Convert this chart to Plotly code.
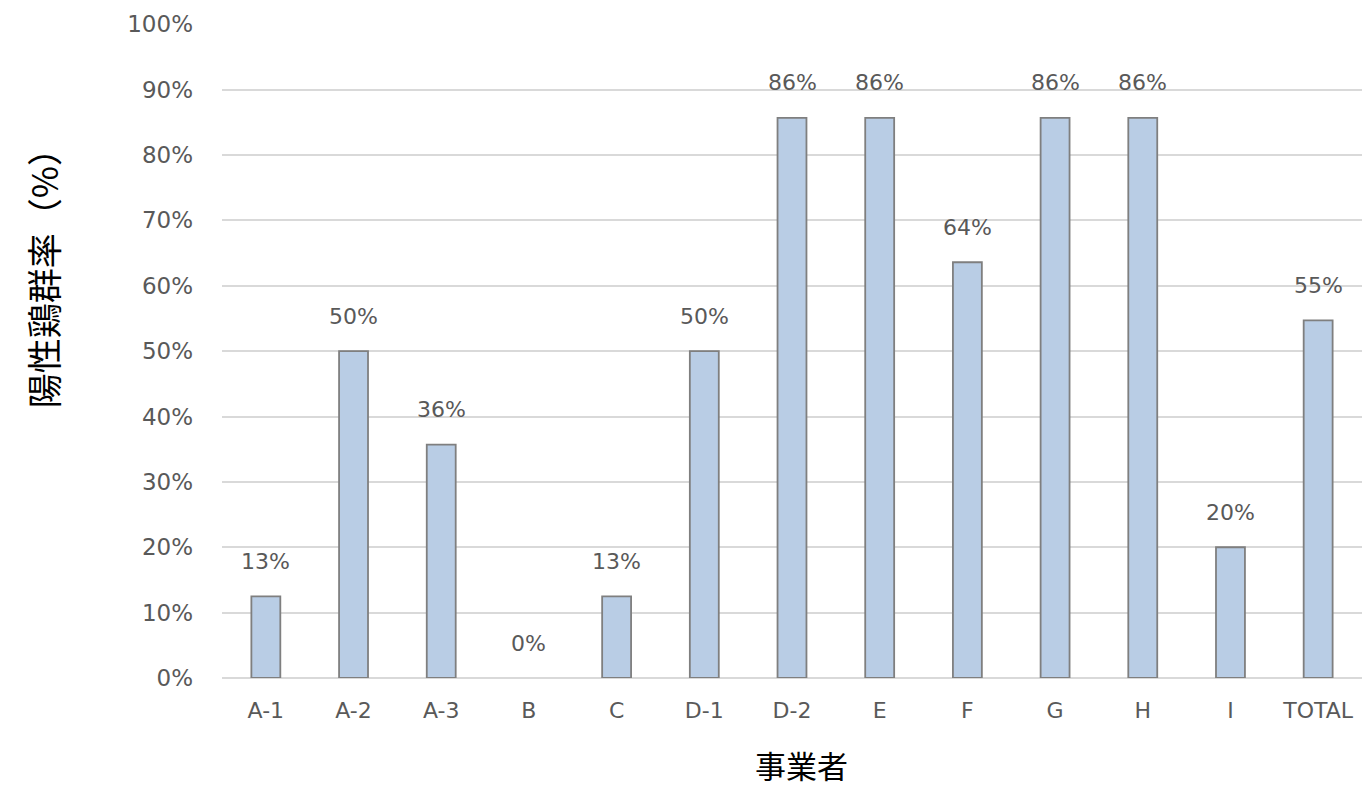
import plotly.graph_objects as go

categories = ["A-1", "A-2", "A-3", "B", "C", "D-1", "D-2", "E", "F", "G", "H", "I", "TOTAL"]
values = [0.125, 0.50, 0.357, 0.0, 0.125, 0.50, 0.857, 0.857, 0.636, 0.857, 0.857, 0.20, 0.547]
y_tick_vals = [0, 0.1, 0.2, 0.3, 0.4, 0.5, 0.6, 0.7, 0.8, 0.9, 1.0]
y_title = "陽性鶏群率（%）"
x_title = "事業者"

TEXT = "#595959"
FONT = "DejaVu Sans, Verdana, sans-serif"
CJK = "Noto Sans CJK JP, sans-serif"

fig = go.Figure()
fig.add_trace(go.Bar(
    x=categories, y=values, width=0.33,
    marker=dict(color="#B9CDE5",
                line=dict(color="#7F7F7F", width=[1.8 if v > 0 else 0 for v in values])),
    hoverinfo="skip",
))

for c, v in zip(categories, values):
    fig.add_annotation(x=c, y=v, text=f"{int(v*100 + 0.5):d}%", showarrow=False,
                       yanchor="middle", xanchor="center", yshift=35,
                       font=dict(family=FONT, size=22, color=TEXT))

fig.add_annotation(xref="paper", yref="paper", x=-0.158, y=0.625, text=y_title,
                   textangle=-90, showarrow=False, xanchor="center", yanchor="middle",
                   font=dict(family=CJK, size=35, color="#000000"))
fig.add_annotation(xref="paper", yref="paper", x=0.508, y=-0.1330, text=x_title,
                   showarrow=False, xanchor="center", yanchor="middle",
                   font=dict(family=CJK, size=31, color="#000000"))

fig.update_layout(
    width=1362, height=788,
    margin=dict(l=222, r=0, t=24, b=110),
    paper_bgcolor="white", plot_bgcolor="white",
    showlegend=False,
    font=dict(family=FONT, size=22, color=TEXT),
    xaxis=dict(range=[-0.5, 12.5], showgrid=False, zeroline=False, showline=False,
               ticks="", ticklabelstandoff=17,
               tickfont=dict(family=FONT, size=22, color=TEXT)),
    yaxis=dict(range=[0, 1.0005], tickvals=y_tick_vals, tickformat=".0%",
               showgrid=True, gridcolor="#D9D9D9", gridwidth=1.5,
               zeroline=True, zerolinecolor="#D9D9D9", zerolinewidth=1.5,
               showline=False, ticks="", ticklabelstandoff=28,
               tickfont=dict(family=FONT, size=23, color=TEXT)),
)

fig.write_html("out.html")
